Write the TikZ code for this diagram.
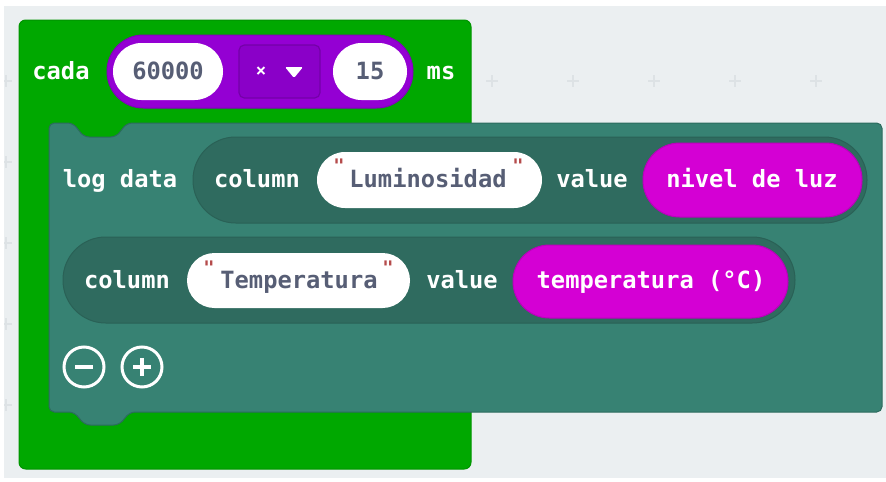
\documentclass[tikz,border=0pt]{standalone}
\usepackage{fontspec}
\newfontfamily\blkfont{DejaVu Sans Mono}
\definecolor{bgc}{HTML}{EBEFF1}
\definecolor{gridc}{HTML}{DDE2E5}
\definecolor{grn}{HTML}{00A800}
\definecolor{grnd}{HTML}{009400}
\definecolor{teal}{HTML}{378273}
\definecolor{teald}{HTML}{2C6B5E}
\definecolor{rowc}{HTML}{2F6B5F}
\definecolor{rowd}{HTML}{2A6156}
\definecolor{purp}{HTML}{9400D3}
\definecolor{purpd}{HTML}{8200BC}
\definecolor{ddfill}{HTML}{8A00C8}
\definecolor{dddraw}{HTML}{7400A8}
\definecolor{mag}{HTML}{D400D4}
\definecolor{magd}{HTML}{BA00BA}
\definecolor{fldtxt}{HTML}{575E75}
\definecolor{quotec}{HTML}{B54B4B}
\begin{document}
\begin{tikzpicture}[x=0.75pt,y=-0.75pt,
  lbl/.style={font=\blkfont\bfseries\fontsize{17.8}{20}\selectfont, text=white, inner sep=0pt, anchor=base},
  fld/.style={lbl, text=fldtxt},
  qt/.style={font=\blkfont\bfseries\fontsize{14}{14}\selectfont, text=quotec, inner sep=0pt},
  pillw/.style={fill=white},
  rowpill/.style={fill=rowc, draw=rowd, line width=0.75pt},
  magpill/.style={fill=mag, draw=magd, line width=0.75pt},
  gridmark/.style={draw=gridc, line width=0.8pt},
  iconline/.style={draw=white, line width=2.25pt}
]
\useasboundingbox (0,0) rectangle (886,482);
% canvas
\fill[white] (0,0) rectangle (886,482);
\fill[bgc] (4,6) rectangle (886,478);
\begin{scope}
  \clip (4,6) rectangle (886,478);
  \foreach \gx in {6,87,...,816} {
    \foreach \gy in {0,81,...,486} {
      \draw[gridmark] (\gx-6,\gy) -- (\gx+6,\gy) (\gx,\gy-6) -- (\gx,\gy+6);
    }
  }
\end{scope}
% green loop block
\draw[fill=grn, draw=grnd, line width=0.75pt, rounded corners=5pt] (19,20) rectangle (471,469);
% teal log data block
\draw[fill=teal, draw=teald, line width=0.75pt, rounded corners=4pt]
  (49,412) -- (49,123) -- (73,123) -- (84,137) -- (116,137) -- (127,123)
  -- (882,123) -- (882,412) -- (130,412) -- (119,425) -- (85,425) -- (74,412) -- cycle;
% purple multiply pill
\draw[fill=purp, draw=purpd, line width=0.75pt, rounded corners=27.3pt] (107,35) rectangle (413,108);
\fill[pillw, rounded corners=21.3pt] (113,43) rectangle (223,100);
\fill[pillw, rounded corners=21.3pt] (333,43) rectangle (407,100);
\draw[fill=ddfill, draw=dddraw, line width=0.9pt, rounded corners=4pt] (239,45) rectangle (320,98);
\node[font=\blkfont\bfseries\fontsize{13}{13}\selectfont, text=white, inner sep=0pt] (times) at (261,72) {×};
\fill[white, rounded corners=1pt] (285,67) -- (303,67) -- (294,78) -- cycle;
% texts top row
\node[lbl] (cada) at (61,79) {cada};
\node[fld] (n60000) at (168,79) {60000};
\node[fld] (n15) at (370,79) {15};
\node[lbl] (ms) at (441,79) {ms};
% row 1
\draw[rowpill, rounded corners=32pt] (193,137) rectangle (867,223);
\fill[pillw, rounded corners=21pt] (317,152) rectangle (542,208);
\draw[magpill, rounded corners=27.5pt] (643,143) rectangle (862,217);
\node[lbl] (logdata) at (120,187) {log data};
\node[lbl] (col1) at (257,187) {column};
\node[qt] (q1a) at (339,166) {"};
\node[fld] (lum) at (428,187) {Luminosidad};
\node[qt] (q1b) at (518,166) {"};
\node[lbl] (val1) at (592,187) {value};
\node[lbl] (luz) at (752,187) {nivel de luz};
% row 2
\draw[rowpill, rounded corners=32pt] (63,237) rectangle (795,323);
\fill[pillw, rounded corners=20.6pt] (187,253) rectangle (410,308);
\draw[magpill, rounded corners=27.3pt] (513,245) rectangle (788,318);
\node[lbl] (col2) at (127,288) {column};
\node[qt] (q2a) at (209,268) {"};
\node[fld] (temp) at (299,288) {Temperatura};
\node[qt] (q2b) at (388,268) {"};
\node[lbl] (val2) at (462,288) {value};
\node[lbl] (tempc) at (651,288) {temperatura (°C)};
% minus / plus
\draw[iconline] (84,367) circle[radius=15pt];
\draw[draw=white, line width=3.6pt] (75,367) -- (93,367);
\draw[iconline] (142,367) circle[radius=15pt];
\draw[draw=white, line width=3.6pt] (133,367) -- (151,367) (142,358) -- (142,376);
\end{tikzpicture}
\end{document}
